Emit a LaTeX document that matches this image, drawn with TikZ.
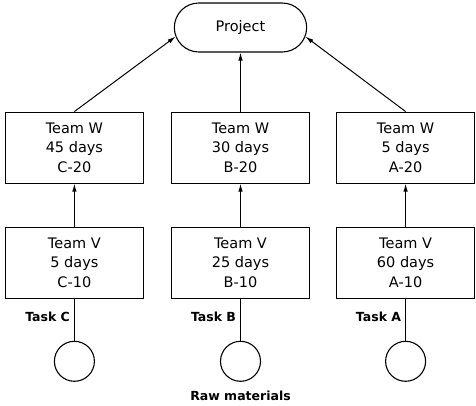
\documentclass[tikz,border=0pt]{standalone}
\usepackage{fontspec}
\setmainfont{DejaVu Sans}
\usetikzlibrary{arrows.meta, positioning, shapes.misc}

\begin{document}
\begin{tikzpicture}[
    x=1pt, y=1pt,
    every node/.style={align=center, font=\fontsize{14.5}{19.5}\selectfont},
    teambox/.style={draw, line width=1.1pt, minimum width=138pt, minimum height=71pt, inner sep=2pt},
    goal/.style={draw, line width=1.1pt, rounded rectangle, minimum width=139pt, minimum height=49pt},
    source/.style={draw, line width=1.1pt, circle, minimum size=40pt, inner sep=0pt},
    tasklabel/.style={font=\fontsize{12.5}{14}\selectfont\bfseries, inner sep=4pt},
    arrow/.style={-{Latex[length=8pt, width=4.5pt]}, line width=1pt},
    link/.style={line width=1pt},
    node distance=59pt and 27pt
]
\useasboundingbox (0,0) rectangle (476,-406);

% Nodes
\node[goal] (project) at (240.5,-27.5) {Project};
\node[teambox] (wb) [below=59pt of project] {Team W\\30 days\\B-20};
\node[teambox] (wc) [left=27pt of wb] {Team W\\45 days\\C-20};
\node[teambox] (wa) [right=26pt of wb] {Team W\\5 days\\A-20};
\node[teambox] (vb) [below=43pt of wb] {Team V\\25 days\\B-10};
\node[teambox] (vc) [below=43pt of wc] {Team V\\5 days\\C-10};
\node[teambox] (va) [below=43pt of wa] {Team V\\60 days\\A-10};
\node[source] (rb) [below=42pt of vb] {};
\node[source] (rc) [below=42pt of vc] {};
\node[source] (ra) [below=42pt of va] {};
\node[tasklabel] (raw) [below=5pt of rb] {Raw materials};

% Arrows
\draw[arrow] (wc.north) -- (project.188);
\draw[arrow] (wb.north) -- (wb.north |- project.south);
\draw[arrow] (wa.north) -- (project.352);
\draw[arrow] (vc) -- (wc);
\draw[arrow] (vb) -- (wb);
\draw[arrow] (va) -- (wa);
\draw[link] (vc) -- (rc) node[tasklabel, pos=0.43, left] {Task C};
\draw[link] (vb) -- (rb) node[tasklabel, pos=0.43, left] {Task B};
\draw[link] (va) -- (ra) node[tasklabel, pos=0.43, left] {Task A};

\end{tikzpicture}
\end{document}
